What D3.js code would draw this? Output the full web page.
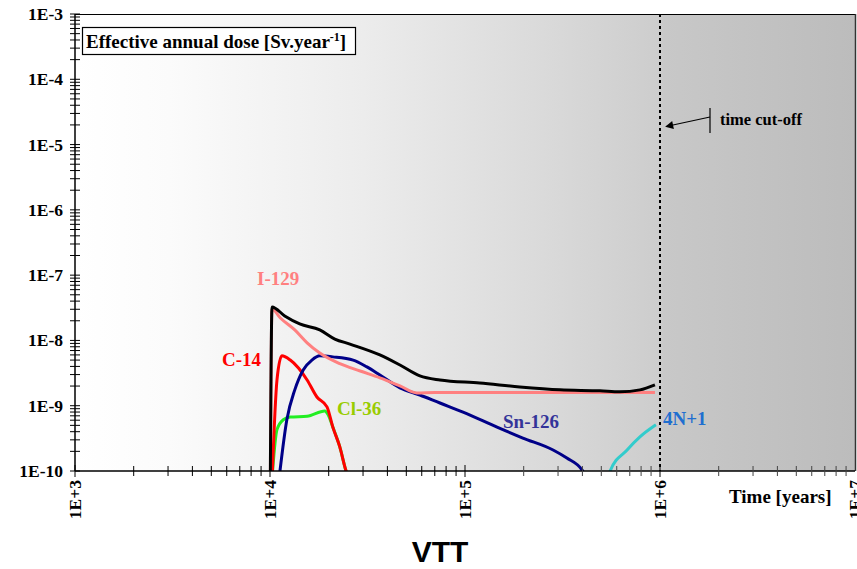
<!DOCTYPE html>
<html><head><meta charset="utf-8">
<script src="https://cdn.jsdelivr.net/npm/d3@7"></script>
<style>body{margin:0;background:#fff}svg{display:block}</style>
</head><body>
<svg id="c" width="857" height="569"></svg>
<script>
// ---- data (time [years], dose [Sv/year]) ----
const xTickLabels = ["1E+3","1E+4","1E+5","1E+6","1E+7"];
const xTickValues = [1e3,1e4,1e5,1e6,1e7];
const yTickLabels = ["1E-10","1E-9","1E-8","1E-7","1E-6","1E-5","1E-4","1E-3"];
const yTickValues = [1e-10,1e-9,1e-8,1e-7,1e-6,1e-5,1e-4,1e-3];
const cutoffTime = 1e6;

const totalT = [1.0e4,1.024e4,1.19e4,1.42e4,1.80e4,2.15e4,2.57e4,3.66e4,4.64e4,5.87e4,7.44e4,1.19e5,1.91e5,3.07e5,4.92e5,6.23e5,7.89e5,9.42e5];
const totalD = [1e-11,3.26e-8,2.37e-8,1.79e-8,1.45e-8,1.05e-8,8.8e-9,6.0e-9,4.2e-9,2.86e-9,2.48e-9,2.23e-9,1.94e-9,1.75e-9,1.69e-9,1.63e-9,1.75e-9,2.09e-9];

const i129T = [1.0e4,1.024e4,1.13e4,1.34e4,1.55e4,1.80e4,2.28e4,2.90e4,3.66e4,4.64e4,5.67e4,7.02e4,1.5e5,3.0e5,6.0e5,9.42e5];
const i129D = [1e-11,3.03e-8,2.21e-8,1.45e-8,9.2e-9,6.4e-9,4.4e-9,3.4e-9,2.67e-9,2.01e-9,1.57e-9,1.6e-9,1.6e-9,1.6e-9,1.6e-9,1.6e-9];

const c14T = [1.02e4,1.086e4,1.15e4,1.27e4,1.55e4,1.74e4,1.96e4,2.10e4,2.28e4,2.45e4,2.52e4];
const c14D = [5e-11,2.48e-9,5.8e-9,5.0e-9,2.48e-9,1.36e-9,9.6e-10,4.7e-10,2.34e-10,1.02e-10,8e-11];

const cl36T = [1.025e4,1.086e4,1.17e4,1.27e4,1.55e4,1.91e4,1.98e4,2.10e4,2.28e4,2.45e4,2.52e4];
const cl36D = [8e-11,4.3e-10,6.1e-10,6.7e-10,6.9e-10,8.3e-10,7.4e-10,4.7e-10,2.34e-10,1.02e-10,8e-11];

const sn126T = [1.115e4,1.22e4,1.34e4,1.48e4,1.64e4,1.80e4,2.10e4,2.67e4,3.14e4,3.66e4,4.64e4,5.87e4,7.44e4,9.77e4,1.46e5,1.98e5,2.83e5,3.33e5,3.98e5,4.1e5];
const sn126D = [8e-11,6.1e-10,1.75e-9,3.53e-9,5.0e-9,5.8e-9,5.6e-9,5.0e-9,3.93e-9,2.96e-9,1.88e-9,1.46e-9,1.10e-9,8.0e-10,4.7e-10,3.2e-10,2.10e-10,1.58e-10,1.04e-10,9e-11];

const n4T = [5.45e5,5.55e5,6.78e5,7.89e5,9.53e5];
const n4D = [8.5e-11,1.0e-10,2.10e-10,3.33e-10,5.1e-10];

const seriesNames = ["Cl-36","C-14","Sn-126","4N+1","I-129","Total"];

// ---- layout ----
const svg = d3.select("#c");
const L = 75, R = 855, T = 14, B = 471;
const x = d3.scaleLog().domain([1e3,1e7]).range([L,R]);
const y = d3.scaleLog().domain([1e-10,1e-3]).range([B,T]);
const serif = "'Liberation Serif','Times New Roman',serif";

const defs = svg.append("defs");
const g1 = defs.append("linearGradient").attr("id","bg").attr("x1","0").attr("x2","1").attr("y1","0").attr("y2","0");
[[0,"#ffffff"],[0.12,"#fbfbfb"],[0.37,"#ececec"],[0.6,"#dadada"],[0.75,"#cdcdcd"],[0.755,"#c8c8c8"],[1,"#bcbcbc"]]
  .forEach(s=>g1.append("stop").attr("offset",s[0]).attr("stop-color",s[1]));
defs.append("clipPath").attr("id","clip").append("rect").attr("x",L).attr("y",T).attr("width",R-L).attr("height",B-T);

svg.append("rect").attr("x",L).attr("y",T).attr("width",R-L).attr("height",B-T).attr("fill","url(#bg)");

// frame top & right
svg.append("line").attr("x1",L).attr("x2",R).attr("y1",T+0.5).attr("y2",T+0.5).attr("stroke","#000").attr("stroke-width",1.2);
svg.append("line").attr("x1",R+0.5).attr("x2",R+0.5).attr("y1",T).attr("y2",B).attr("stroke","#333").attr("stroke-width",1.5);

// cut-off dotted line
svg.append("line").attr("x1",x(cutoffTime)).attr("x2",x(cutoffTime)).attr("y1",T).attr("y2",B)
  .attr("stroke","#000").attr("stroke-width",2).attr("stroke-dasharray","3,3");

// ---- curves ----
const line = d3.line().x(d=>x(d[0])).y(d=>y(d[1])).curve(d3.curveMonotoneX);
const plot = svg.append("g").attr("clip-path","url(#clip)");
function draw(ts, ds, color, w){
  plot.append("path").datum(ts.map((t,i)=>[t,ds[i]])).attr("d",line)
    .attr("fill","none").attr("stroke",color).attr("stroke-width",w).attr("stroke-linejoin","round");
}
draw(cl36T, cl36D, "#22ee22", 3);
draw(c14T, c14D, "#ff0000", 3);
draw(sn126T, sn126D, "#000088", 3);
draw(n4T, n4D, "#33cccc", 3);
draw(i129T, i129D, "#ff8080", 3);
draw(totalT, totalD, "#000000", 3);

// ---- axes ----
const ax = svg.append("g");
ax.append("line").attr("x1",L).attr("x2",L).attr("y1",T).attr("y2",B).attr("stroke","#000").attr("stroke-width",1.5);
ax.append("line").attr("x1",L).attr("x2",R).attr("y1",B).attr("y2",B).attr("stroke","#000").attr("stroke-width",1.5);
// y ticks
for (let e=-10; e<-3; e++){
  for (let m=1; m<10; m++){
    const yy = y(m*Math.pow(10,e));
    ax.append("line").attr("x1",L-5).attr("x2",L+5).attr("y1",yy).attr("y2",yy).attr("stroke","#000").attr("stroke-width",1);
  }
}
ax.append("line").attr("x1",L-5).attr("x2",L+5).attr("y1",y(1e-3)).attr("y2",y(1e-3)).attr("stroke","#000");
yTickValues.forEach((v,i)=>{
  ax.append("text").attr("x",63).attr("y",y(v)+6).attr("text-anchor","end")
    .attr("font-family",serif).attr("font-weight","bold").attr("font-size",17.5).text(yTickLabels[i]);
});
// x ticks
for (let e=3; e<7; e++){
  for (let m=1; m<10; m++){
    const xx = x(m*Math.pow(10,e));
    const major = m===1;
    ax.append("line").attr("x1",xx).attr("x2",xx).attr("y1",B-(major?6:5)).attr("y2",B+(major?6:5))
      .attr("stroke", e>=5 && !major ? "#444" : "#000").attr("stroke-width",1);
  }
}
xTickValues.forEach((v,i)=>{
  ax.append("text").attr("transform",`translate(${x(v)+6},${B+9}) rotate(-90)`).attr("text-anchor","end")
    .attr("font-family",serif).attr("font-weight","bold").attr("font-size",17.5).text(xTickLabels[i]);
});

// ---- labels ----
const lab = svg.append("g").attr("font-family",serif).attr("font-weight","bold");
lab.append("rect").attr("x",82.5).attr("y",27.5).attr("width",273).attr("height",27).attr("fill","#fff").attr("stroke","#000").attr("stroke-width",1.2);
const tt = lab.append("text").attr("x",86).attr("y",48).attr("font-size",19);
tt.append("tspan").text("Effective annual dose [Sv.year");
tt.append("tspan").attr("dy",-7).attr("font-size",12).text("-1");
tt.append("tspan").attr("dy",7).text("]");

lab.append("text").attr("x",257).attr("y",285).attr("font-size",19).attr("fill","#ff8080").text("I-129");
lab.append("text").attr("x",222).attr("y",366).attr("font-size",19).attr("fill","#ff0000").text("C-14");
lab.append("text").attr("x",337).attr("y",415).attr("font-size",19).attr("fill","#99cc00").text("Cl-36");
lab.append("text").attr("x",503).attr("y",428).attr("font-size",19).attr("fill","#333399").text("Sn-126");
lab.append("text").attr("x",663).attr("y",425).attr("font-size",19).attr("fill","#1f6fd0").text("4N+1");
lab.append("text").attr("x",729).attr("y",503).attr("font-size",19).attr("fill","#000").text("Time [years]");

// time cut-off annotation
defs.append("marker").attr("id","arr").attr("viewBox","0 0 10 10").attr("refX",9).attr("refY",5)
  .attr("markerWidth",10).attr("markerHeight",8).attr("orient","auto").attr("markerUnits","userSpaceOnUse")
  .append("path").attr("d","M0,0 L10,5 L0,10 z").attr("fill","#000");
svg.append("line").attr("x1",x(cutoffTime)+50).attr("y1",117).attr("x2",x(cutoffTime)+6).attr("y2",126.5)
  .attr("stroke","#000").attr("stroke-width",1.2).attr("marker-end","url(#arr)");
svg.append("line").attr("x1",x(cutoffTime)+50).attr("x2",x(cutoffTime)+50).attr("y1",108).attr("y2",133).attr("stroke","#000").attr("stroke-width",1.2);
lab.append("text").attr("x",720).attr("y",125).attr("font-size",16.5).attr("fill","#000").text("time cut-off");

svg.append("text").attr("x",440).attr("y",562).attr("text-anchor","middle")
  .attr("font-family","'Liberation Sans',Arial,sans-serif").attr("font-weight","bold").attr("font-size",30).text("VTT");
</script>
</body></html>
